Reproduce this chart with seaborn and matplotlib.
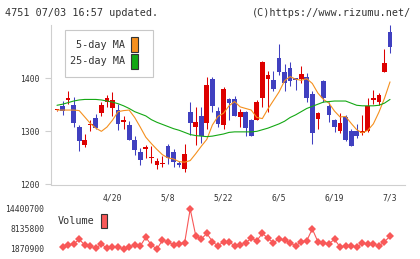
import matplotlib
matplotlib.use('Agg')
import matplotlib.pyplot as plt
from matplotlib.patches import Rectangle
import numpy as np
import pandas as pd
import seaborn as sns

# daily candles, oldest first (last one is 7/3)
opens = [1340, 1348, 1359, 1350, 1308, 1274, 1312, 1325, 1335, 1355,
         1343, 1340, 1318, 1312, 1283, 1261, 1267, 1249, 1236, 1239,
         1272, 1261, 1240, 1229, 1337, 1309, 1329, 1316, 1399, 1338,
         1312, 1361, 1361, 1327, 1336, 1321, 1322, 1363, 1399, 1396,
         1438, 1412, 1420, 1400, 1399, 1403, 1370, 1324, 1395, 1348,
         1321, 1301, 1327, 1300, 1300, 1297, 1300, 1358, 1355, 1412, 1487]
highs = [1341, 1357, 1375, 1364, 1312, 1295, 1321, 1332, 1356, 1369,
         1374, 1352, 1328, 1320, 1292, 1268, 1275, 1272, 1250, 1254,
         1276, 1266, 1245, 1276, 1356, 1345, 1345, 1403, 1402, 1346,
         1384, 1363, 1367, 1342, 1338, 1324, 1358, 1432, 1414, 1414,
         1465, 1427, 1431, 1401, 1423, 1409, 1375, 1337, 1397, 1356,
         1324, 1334, 1330, 1305, 1314, 1331, 1363, 1377, 1372, 1455, 1500]
lows = [1339, 1331, 1351, 1309, 1263, 1270, 1300, 1304, 1328, 1346,
        1329, 1303, 1304, 1283, 1256, 1236, 1249, 1241, 1230, 1232,
        1238, 1233, 1232, 1224, 1293, 1274, 1278, 1305, 1337, 1308,
        1305, 1321, 1328, 1309, 1291, 1291, 1321, 1345, 1337, 1376,
        1406, 1375, 1385, 1378, 1391, 1356, 1277, 1304, 1356, 1318,
        1299, 1297, 1282, 1273, 1287, 1294, 1298, 1351, 1349, 1412, 1447]
closes = [1340, 1339, 1363, 1315, 1282, 1283, 1314, 1306, 1350, 1363,
          1359, 1314, 1322, 1284, 1264, 1247, 1270, 1251, 1244, 1241,
          1249, 1242, 1236, 1257, 1316, 1317, 1291, 1387, 1347, 1314,
          1380, 1354, 1329, 1336, 1307, 1291, 1355, 1431, 1406, 1380,
          1412, 1391, 1394, 1397, 1408, 1363, 1296, 1334, 1362, 1331,
          1309, 1315, 1283, 1273, 1292, 1300, 1348, 1362, 1368, 1429, 1459]
ma5 = [1340, 1340, 1340, 1340, 1339, 1327, 1315, 1306, 1300, 1308,
       1321, 1337, 1339, 1340, 1326, 1308, 1289, 1277, 1266, 1256,
       1250, 1248, 1243, 1242, 1245, 1258, 1272, 1285, 1312, 1328,
       1334, 1348, 1356, 1346, 1343, 1340, 1326, 1324, 1342, 1358,
       1374, 1395, 1403, 1398, 1396, 1399, 1390, 1372, 1360, 1353,
       1338, 1327, 1328, 1315, 1303, 1297, 1302, 1314, 1336, 1362, 1393]
ma25 = [1349, 1351, 1354, 1357, 1359, 1360, 1360, 1360, 1359, 1357,
        1355, 1352, 1348, 1343, 1337, 1333, 1329, 1322, 1317, 1313,
        1309, 1305, 1302, 1298, 1294, 1292, 1291, 1290, 1291, 1293,
        1295, 1298, 1299, 1299, 1299, 1299, 1300, 1303, 1306, 1310,
        1314, 1319, 1326, 1331, 1337, 1343, 1347, 1351, 1355, 1356,
        1357, 1357, 1357, 1353, 1349, 1348, 1348, 1348, 1349, 1353, 1360]
# volume starts from the second day
volume = [2500000, 3120000, 3440000, 4900000, 3120000, 2810000, 2080000, 3440000, 2080000, 2500000,
          2500000, 1870900, 2500000, 3120000, 2810000, 5530000, 3120000, 1870900, 4590000, 4170000,
          3120000, 3540000, 3850000, 14400700, 6050000, 5000000, 6780000, 4170000, 2810000, 4170000,
          4170000, 2810000, 3120000, 3850000, 5210000, 4480000, 6780000, 5210000, 3850000, 5000000,
          4590000, 3850000, 2810000, 4170000, 4480000, 8140000, 4170000, 3650000, 3540000, 4900000,
          2500000, 2810000, 2810000, 2500000, 3650000, 3440000, 3440000, 2810000, 4170000, 5840000]
date_labels = ['4/20', '5/8', '5/22', '6/5', '6/19', '7/3']
label_days = [10, 20, 30, 40, 50, 60]
price_ticks = [1200, 1300, 1400]
vol_ticks = [1870900, 8135800, 14400700]

RED = '#dd0000'
BLUE = '#4040c0'
ORANGE = '#f5901e'
GREEN = '#14a814'
VOLRED = '#f85858'
GRID = '#cfcfcf'
TXT = '#333333'

sns.set_theme(style='white')
plt.rcParams['font.family'] = ['DejaVu Sans Mono']

W, H = 420, 259
fig = plt.figure(figsize=(W / 100, H / 100), dpi=100)


def fx(x):
    return x / W


def fy(y):
    return 1 - y / H


ax = fig.add_axes([fx(51), fy(184.5), fx(405) - fx(51), fy(25) - fy(184.5)])
vax = fig.add_axes([fx(51), fy(253), fx(405) - fx(51), fy(205) - fy(253)])

days = np.arange(len(closes))
df = pd.DataFrame({'day': days, 'open': opens, 'high': highs, 'low': lows,
                   'close': closes, 'ma5': ma5, 'ma25': ma25})
df['up'] = df['close'] >= df['open']
colors = [RED if u else BLUE for u in df['up']]

# candles
ax.vlines(df['day'], df['low'], df['high'], colors=colors, linewidth=0.75, zorder=2)
body_lo = df[['open', 'close']].min(axis=1)
body_h = (df['close'] - df['open']).abs().clip(lower=2)
ax.bar(df['day'], body_h, bottom=body_lo, width=0.85, color=colors, linewidth=0, zorder=3)

# moving averages
sns.lineplot(data=df, x='day', y='ma5', ax=ax, color=ORANGE, linewidth=0.8, zorder=4)
sns.lineplot(data=df, x='day', y='ma25', ax=ax, color=GREEN, linewidth=0.8, zorder=4)

xlim = (-1.08, 62.7)
ax.set_xlim(xlim)
ax.set_ylim(1200, 1500)
ax.set_xlabel('')
ax.set_ylabel('')
ax.set_xticks(np.linspace(xlim[0], xlim[1], 12))
ax.set_xticklabels([])
ax.set_xticks(label_days, date_labels, minor=True)
ax.set_yticks(price_ticks)
ax.set_yticklabels([str(t) for t in price_ticks])
ax.tick_params(axis='x', which='major', direction='in', length=2.3, width=0.8, color=GRID)
ax.tick_params(axis='x', which='minor', length=0, pad=6.5, labelsize=5.8, labelcolor=TXT)
ax.tick_params(axis='y', direction='out', length=4.3, width=0.8, color=GRID,
               pad=4, labelsize=5.8, labelcolor=TXT, left=True)
for s in ['top', 'right']:
    ax.spines[s].set_visible(False)
for s in ['left', 'bottom']:
    ax.spines[s].set_color(GRID)
    ax.spines[s].set_linewidth(0.8)

# volume
vdf = pd.DataFrame({'day': days[1:], 'volume': volume})
sns.lineplot(data=vdf, x='day', y='volume', ax=vax, color=VOLRED, linewidth=0.8,
             marker='D', markersize=4, markeredgewidth=0)
vax.set_xlim(xlim)
vax.set_ylim(617920, 15653680)
vax.set_xlabel('')
vax.set_ylabel('')
vax.set_xticks([])
vax.set_yticks(vol_ticks)
vax.set_yticklabels([str(t) for t in vol_ticks])
vax.tick_params(axis='y', length=0, pad=4.8, labelsize=5.8, labelcolor=TXT)
for s in vax.spines.values():
    s.set_visible(False)

# legends
fig.patches.append(Rectangle((fx(65), fy(77)), fx(152.7) - fx(65), fy(30) - fy(77),
                             transform=fig.transFigure, facecolor='white',
                             edgecolor='#c8c8c8', linewidth=0.8, zorder=5))
for label, col, yc in [('5-day MA', ORANGE, 44.5), ('25-day MA', GREEN, 61.5)]:
    fig.text(fx(125), fy(yc), label, ha='right', va='center', fontsize=7.3,
             color=TXT, zorder=6)
    fig.patches.append(Rectangle((fx(131), fy(yc + 7.5)), fx(6.5), fy(0) - fy(15),
                                 transform=fig.transFigure, facecolor=col,
                                 edgecolor='#333333', linewidth=0.8, zorder=6))
fig.text(fx(58), fy(221.5), 'Volume', ha='left', va='center', fontsize=7.3, color=TXT)
fig.patches.append(Rectangle((fx(101), fy(228.3)), fx(6.3), fy(0) - fy(14.6),
                             transform=fig.transFigure, facecolor=VOLRED,
                             edgecolor='#333333', linewidth=0.8))

fig.text(fx(5), fy(12.5), '4751 07/03 16:57 updated.', ha='left', va='center',
         fontsize=7.3, color=TXT)
fig.text(fx(411), fy(12.5), '(C)https://www.rizumu.net/', ha='right', va='center',
         fontsize=7.3, color=TXT)

fig.savefig('out.png', dpi=100, facecolor='white')
